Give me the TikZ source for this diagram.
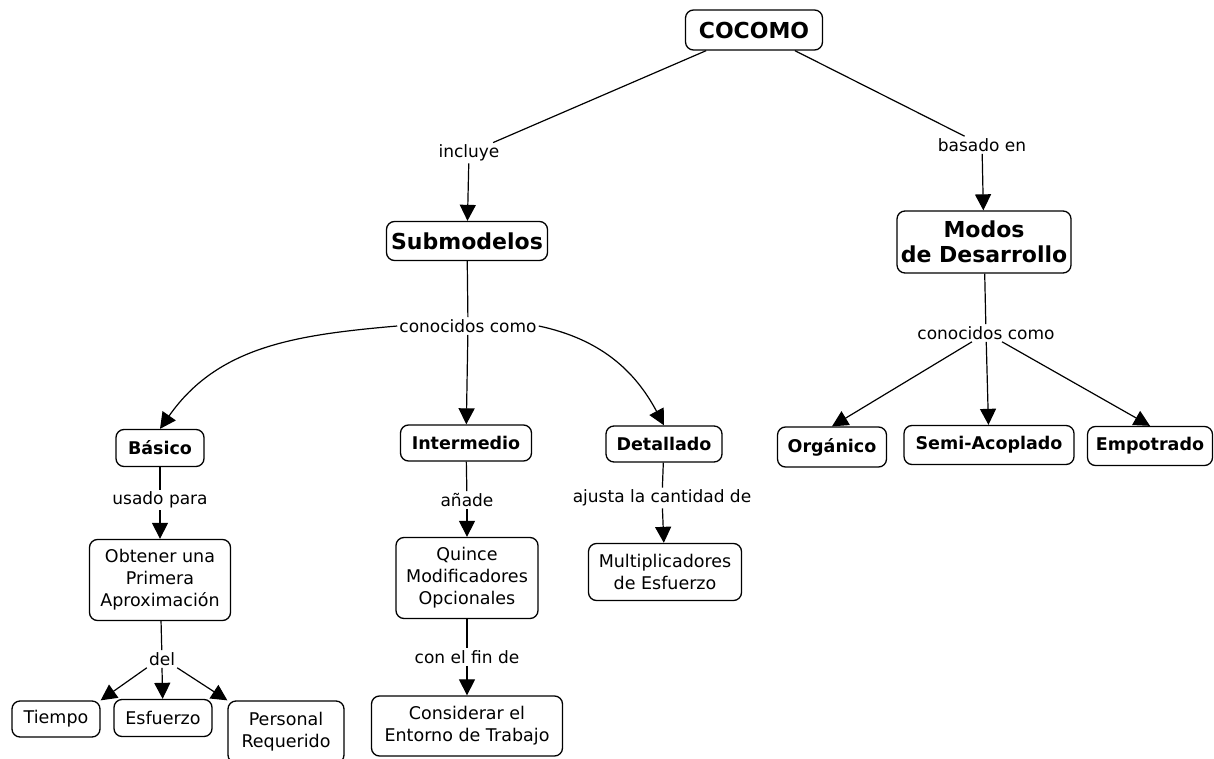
\documentclass[tikz,border=0pt]{standalone}
\usepackage{fontspec}
\setmainfont{DejaVu Sans}
\usetikzlibrary{arrows.meta}
\begin{document}
\begin{tikzpicture}[x=1pt,y=-1pt,
  box/.style={draw, rounded corners=8pt, line width=1.3pt, align=center, inner sep=0pt, fill=white},
  big/.style={box, font=\bfseries\fontsize{22}{25}\selectfont},
  mid/.style={box, font=\bfseries\fontsize{17.5}{21}\selectfont},
  txt/.style={box, font=\fontsize{17.5}{22}\selectfont},
  lab/.style={font=\fontsize{17}{20}\selectfont, inner sep=2pt},
  ln/.style={line width=1.2pt},
  arr/.style={ln, -{Triangle[length=16pt,width=16pt]}}]
\useasboundingbox (0,0) rectangle (1214,759);
\clip (0,0) rectangle (1214,759);
\fill[white] (0,0) rectangle (1214,759);
% concepts
\node[big, minimum width=137pt, minimum height=40pt] (cocomo) at (754,30) {COCOMO};
\node[big, minimum width=161pt, minimum height=39pt] (subm) at (467,241) {Submodelos};
\node[big, minimum width=174pt, minimum height=62pt] (modos) at (984,242) {Modos\\de Desarrollo};
\node[mid, minimum width=88pt, minimum height=37pt] (basico) at (160,448) {Básico};
\node[mid, minimum width=131pt, minimum height=36pt] (inter) at (466,443) {Intermedio};
\node[mid, minimum width=116pt, minimum height=36pt] (det) at (664,444) {Detallado};
\node[mid, minimum width=109pt, minimum height=40pt] (org) at (832,447) {Orgánico};
\node[mid, minimum width=170pt, minimum height=39pt] (semi) at (989,445) {Semi-Acoplado};
\node[mid, minimum width=125pt, minimum height=39pt] (emp) at (1150,446) {Empotrado};
\node[txt, minimum width=141pt, minimum height=81pt] (obt) at (160,580) {Obtener una\\Primera\\Aproximación};
\node[txt, minimum width=88pt, minimum height=36pt] (tiempo) at (56,719) {Tiempo};
\node[txt, minimum width=98pt, minimum height=37pt] (esf) at (163,718) {Esfuerzo};
\node[txt, minimum width=116pt, minimum height=62pt] (pers) at (286,732) {Personal\\Requerido};
\node[txt, minimum width=142pt, minimum height=81pt] (quince) at (467,578) {Quince\\Modificadores\\Opcionales};
\node[txt, minimum width=191pt, minimum height=60pt] (cons) at (467,726) {Considerar el\\Entorno de Trabajo};
\node[txt, minimum width=153pt, minimum height=57pt] (mult) at (665,572) {Multiplicadores\\de Esfuerzo};
% linking phrases
\node[lab] (incl) at (469,153) {incluye};
\node[lab] (bas) at (982,145) {basado en};
\node[lab] (k1) at (468,326) {conocidos como};
\node[lab] (k2) at (986,333) {conocidos como};
\node[lab] (usado) at (160,500) {usado para};
\node[lab] (anade) at (467,500) {añade};
\node[lab] (ajusta) at (662,498) {ajusta la cantidad de};
\node[lab] (del) at (162,659) {del};
\node[lab] (fin) at (467,657) {con el fin de};
% connectors
\draw[ln] (cocomo) -- (incl);
\draw[arr] (incl) -- (subm);
\draw[ln] (cocomo) -- (bas);
\draw[arr] (bas) -- (modos);
\draw[ln] (subm) -- (k1);
\draw[arr] (k1.west) to[out=185,in=55] (basico.north);
\draw[arr] (k1) -- (inter);
\draw[arr] (k1.east) to[out=-12,in=118] (det.north);
\draw[ln] (basico) -- (usado);
\draw[arr] (usado) -- (obt);
\draw[ln] (obt) -- (del);
\draw[arr] (del.south west) -- (tiempo.north east);
\draw[arr] (del.south) -- (esf);
\draw[arr] (del.south east) -- (pers.north west);
\draw[ln] (inter) -- (anade);
\draw[arr] (anade) -- (quince);
\draw[ln] (quince) -- (fin);
\draw[arr] (fin) -- (cons);
\draw[ln] (det) -- (ajusta);
\draw[arr] (ajusta) -- (mult);
\draw[ln] (modos) -- (k2);
\draw[arr] ([xshift=-14pt]k2.south) -- (org.north);
\draw[arr] (k2) -- (semi);
\draw[arr] ([xshift=16pt]k2.south) -- (emp.north);
\end{tikzpicture}
\end{document}
